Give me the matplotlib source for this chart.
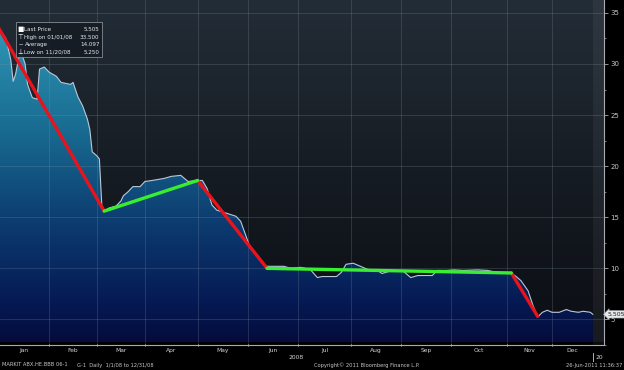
import numpy as np
import pandas as pd
import matplotlib
matplotlib.use("Agg")
import matplotlib.pyplot as plt
from matplotlib.colors import LinearSegmentedColormap
from matplotlib.patches import Polygon, Rectangle
from matplotlib.transforms import Bbox

# NYSE sessions of 2008, x axis runs in session numbers
holidays = ["2008-01-01", "2008-01-21", "2008-02-18", "2008-03-21", "2008-05-26",
            "2008-07-04", "2008-09-01", "2008-11-27", "2008-12-25"]
sessions = pd.bdate_range("2008-01-01", "2008-12-31", freq="C", holidays=holidays)
months = ["Jan", "Feb", "Mar", "Apr", "May", "Jun", "Jul", "Aug", "Sep", "Oct", "Nov", "Dec"]

# price series (session number, price)
day = [0, 3, 5, 6, 7, 9, 11, 12, 14, 16, 17, 19, 21, 24, 26, 30, 31, 33, 35, 37,
       38, 39, 41, 42, 43, 44, 46, 49, 51, 52, 54, 56, 59, 61, 64, 69, 72, 76, 79, 83,
       85, 87, 89, 91, 95, 99, 101, 103, 105, 108, 110, 112, 115, 119, 122, 126, 128, 130, 133, 135,
       141, 143, 145, 148, 151, 154, 158, 160, 163, 169, 172, 175, 179, 181, 183, 187, 190, 194, 200, 204,
       208, 214, 216, 218, 221, 223, 225, 227, 229, 231, 234, 237, 239, 242, 244, 247, 248]
price = [33.5, 32.5, 30.4, 28.3, 29.0, 31.4, 30.0, 28.0, 26.7, 26.55, 29.5, 29.7, 29.2, 28.8, 28.2, 28.0, 28.2, 26.8, 25.9, 24.6,
         23.6, 21.4, 21.0, 20.7, 16.2, 15.6, 15.9, 16.1, 16.6, 17.1, 17.5, 18.0, 18.0, 18.5, 18.6, 18.8, 19.0, 19.1, 18.5, 18.6,
         18.6, 17.8, 16.2, 15.7, 15.4, 15.1, 14.6, 13.3, 12.0, 11.2, 10.5, 10.2, 10.2, 10.2, 10.0, 10.1, 10.0, 9.9, 9.1, 9.2,
         9.2, 9.6, 10.4, 10.5, 10.2, 9.9, 9.8, 9.5, 9.7, 9.7, 9.1, 9.3, 9.3, 9.3, 9.8, 9.8, 9.85, 9.8, 9.85, 9.8,
         9.6, 9.55, 9.2, 8.8, 7.8, 6.4, 5.25, 5.7, 5.9, 5.7, 5.7, 5.97, 5.8, 5.7, 5.8, 5.7, 5.505]

# hand drawn trend lines
down_x = [[0, 44], [83, 112], [214, 225]]
down_y = [[33.5, 15.6], [18.6, 10.0], [9.55, 5.3]]
up_x = [[44, 83], [112, 214]]
up_y = [[15.6, 18.6], [10.0, 9.55]]

legend_rows = [("\u25A0", "Last Price", "5.505"),
               ("\u22A4", "High on 01/01/08", "33.500"),
               ("\u2012", "Average", "14.097"),
               ("\u22A5", "Low on 11/20/08", "5.250")]
footer = ["MARKIT ABX.HE.BBB 06-1", "G-1  Daily  1/1/08 to 12/31/08",
          "Copyright\u00A9 2011 Bloomberg Finance L.P.", "26-Jun-2011 11:36:37"]

W, H = 624, 370
fig = plt.figure(figsize=(W / 100, H / 100), dpi=100, facecolor="black")
ax = fig.add_axes([0, 25 / H, 604 / W, 345 / H])
x0, x1 = 0.5, 252.7
y0, y1 = 2.77, 36.26

# background gradient
bg = LinearSegmentedColormap.from_list("bg", ["#0b0e13", "#161c23", "#232d37"])
ax.imshow(np.linspace(1, 0, 256).reshape(-1, 1), extent=[x0, x1, y0, y1], aspect="auto",
          cmap=bg, vmin=0, vmax=1, zorder=0)
# lighter strip after the last print
ax.axvspan(day[-1], x1, color="white", alpha=0.05, lw=0, zorder=0.5)

# area under the curve, gradient by height
area = LinearSegmentedColormap.from_list(
    "area", [(0, "#040c3c"), (0.12, "#061a55"), (0.35, "#0c3c70"), (0.6, "#17688f"), (0.85, "#2a8cad"), (1, "#3aa3c2")])
im = ax.imshow(np.linspace(1, 0, 256).reshape(-1, 1), extent=[x0, x1, y0, y1], aspect="auto",
               cmap=area, vmin=0, vmax=1, zorder=1)
verts = list(zip(day, price)) + [(day[-1], y0), (day[0], y0)]
clip = Polygon(verts, closed=True, facecolor="none", edgecolor="none")
ax.add_patch(clip)
im.set_clip_path(clip)

ax.plot(day, price, color="#b9c9d6", lw=0.8, zorder=4)

for xs, ys in zip(down_x, down_y):
    ax.plot(xs, ys, color="#e8141c", lw=2.4, solid_capstyle="round", zorder=5)
for xs, ys in zip(up_x, up_y):
    ax.plot(xs, ys, color="#38ee30", lw=2.4, solid_capstyle="round", zorder=5)

# month boundaries in session numbers
month_start = [int(np.argmax(sessions.month == m)) for m in range(1, 13)]
bounds = month_start + [day[-1]]
for b in month_start[1:]:
    ax.axvline(b, color="#8a949e", lw=0.6, alpha=0.28, zorder=3)
for v in range(5, 40, 5):
    ax.axhline(v, color="#8a949e", lw=0.6, alpha=0.28, zorder=3)

ax.set_xlim(x0, x1)
ax.set_ylim(y0, y1)
ax.set_facecolor("black")
for s in ["left", "top"]:
    ax.spines[s].set_visible(False)
for s in ["right", "bottom"]:
    ax.spines[s].set_color("#a8acb0")
    ax.spines[s].set_linewidth(0.8)

ax.yaxis.tick_right()
ax.set_yticks(range(5, 40, 5))
ax.set_yticks(np.arange(2.5, 37.5, 5), minor=True)
ax.tick_params(axis="y", which="major", colors="#a8acb0", labelcolor="#c4c8cc",
               labelsize=5, length=3, width=0.6, pad=1.5)
ax.tick_params(axis="y", which="minor", colors="#a8acb0", length=1.5, width=0.5)

ax.set_xticks(month_start[1:])
ax.set_xticklabels([])
ax.tick_params(axis="x", which="major", colors="#c8ccd0", direction="inout", length=2, width=0.8)
centers = [(a + b) / 2 for a, b in zip(bounds[:-1], bounds[1:])]
ax.set_xticks(centers, minor=True)
ax.set_xticklabels(months, minor=True)
ax.tick_params(axis="x", which="minor", length=0, labelsize=4.3, labelcolor="#d0d4d8", pad=2)

# last price tag on the axis
ax.text(1.006, price[-1], "5.505", transform=ax.get_yaxis_transform(), fontsize=4.5,
        color="#202020", va="center", ha="left", clip_on=False, zorder=10,
        bbox=dict(boxstyle="larrow,pad=0.2", fc="#e6e8ea", ec="#a0a0a0", lw=0.4))


def px(x, y):
    return x / W, 1 - y / H


# legend box
lx, ly = px(16, 57)
fig.patches.append(Rectangle((lx, ly), 86 / W, 35 / H, transform=fig.transFigure,
                             facecolor="#161c24", edgecolor="#8c939a", lw=0.6, alpha=0.92, zorder=20))
for i, (icon, label, val) in enumerate(legend_rows):
    yy = 29.5 + i * 7.6
    fig.text(*px(20.5, yy), icon, fontsize=4.8, color="white", ha="center", va="center", zorder=21)
    fig.text(*px(24.5, yy), label, fontsize=4.1, color="#e4e8ec", ha="left", va="center", zorder=21)
    fig.text(*px(99.5, yy), val, fontsize=4.1, color="#e4e8ec", ha="right", va="center", zorder=21)

# year labels
fig.text(*px(296, 357.5), "2008", fontsize=4.3, color="#d0d4d8", ha="center", va="center")
fig.lines.append(plt.Line2D([593 / W, 593 / W], [1 - 353 / H, 1 - 361 / H],
                            transform=fig.transFigure, color="#c8ccd0", lw=0.6))
t = fig.text(*px(596, 357.5), "2009", fontsize=4.3, color="#d0d4d8", ha="left", va="center")
t.set_clip_box(Bbox.from_extents(590, 0, 603, H))
t.set_clip_on(True)

# footer
fy = 365
fig.text(*px(2, fy), footer[0], fontsize=3.7, color="#c4c8cc", ha="left", va="center")
fig.text(*px(77, fy), footer[1], fontsize=3.7, color="#c4c8cc", ha="left", va="center")
fig.text(*px(314, fy), footer[2], fontsize=3.7, color="#c4c8cc", ha="left", va="center")
fig.text(*px(622, fy), footer[3], fontsize=3.7, color="#c4c8cc", ha="right", va="center")

fig.savefig("out.png", dpi=100, facecolor="black")
